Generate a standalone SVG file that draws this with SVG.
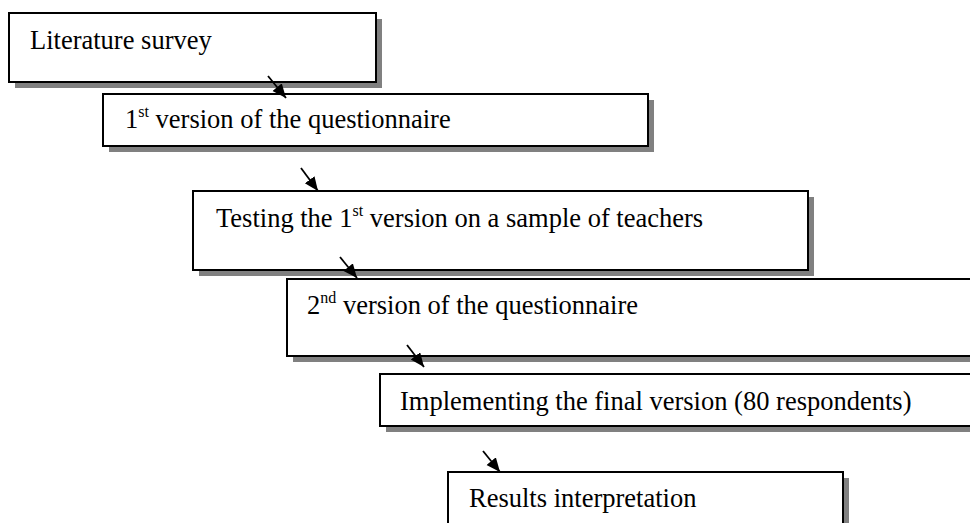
<svg xmlns="http://www.w3.org/2000/svg" width="970" height="523" viewBox="0 0 970 523">
  <style>
    .shadow { fill: #808080; stroke: none; }
    .box { fill: #ffffff; stroke: #000000; stroke-width: 2; }
    .lbl { font-family: "Liberation Serif", "Times New Roman", serif; font-size: 26.5px; fill: #000000; }
    .sup { font-size: 16px; }
    .conn { stroke: #000000; stroke-width: 1.8; fill: none; marker-end: url(#arrow); }
  </style>
  <defs>
    <marker id="arrow" markerUnits="userSpaceOnUse" markerWidth="16" markerHeight="14" refX="14" refY="6" orient="auto">
      <path d="M0,0 L14,6 L0,12 z" fill="#000000"/>
    </marker>
  </defs>
  <rect width="970" height="523" fill="#ffffff"/>

  <g id="node-literature">
    <rect class="shadow" x="15" y="19" width="367" height="69"/>
    <rect class="box" x="9" y="13" width="367" height="69"/>
    <text class="lbl" x="30" y="49">Literature survey</text>
  </g>

  <g id="node-version1">
    <rect class="shadow" x="109" y="100" width="545" height="52"/>
    <rect class="box" x="103" y="94" width="545" height="52"/>
    <text class="lbl" x="125" y="128">1<tspan class="sup" dy="-11">st</tspan><tspan dy="11"> version of the questionnaire</tspan></text>
  </g>

  <g id="node-testing">
    <rect class="shadow" x="199" y="197" width="615" height="79"/>
    <rect class="box" x="193" y="191" width="615" height="79"/>
    <text class="lbl" x="216" y="227">Testing the 1<tspan class="sup" dy="-11">st</tspan><tspan dy="11"> version on a sample of teachers</tspan></text>
  </g>

  <g id="node-version2">
    <rect class="shadow" x="293" y="285" width="700" height="77"/>
    <rect class="box" x="287" y="279" width="700" height="77"/>
    <text class="lbl" x="307" y="314">2<tspan class="sup" dy="-11">nd</tspan><tspan dy="11"> version of the questionnaire</tspan></text>
  </g>

  <g id="node-implementing">
    <rect class="shadow" x="386" y="380" width="600" height="52"/>
    <rect class="box" x="380" y="374" width="600" height="52"/>
    <text class="lbl" x="400" y="410">Implementing the final version (80 respondents)</text>
  </g>

  <g id="node-results">
    <rect class="shadow" x="454" y="478" width="395" height="70"/>
    <rect class="box" x="448" y="472" width="395" height="70"/>
    <text class="lbl" x="469" y="507">Results interpretation</text>
  </g>

  <g id="connectors">
    <line class="conn" x1="268" y1="76" x2="286" y2="98"/>
    <line class="conn" x1="301" y1="168" x2="318" y2="191"/>
    <line class="conn" x1="340" y1="257" x2="357" y2="278"/>
    <line class="conn" x1="407" y1="345" x2="424" y2="367"/>
    <line class="conn" x1="483" y1="451" x2="500" y2="472"/>
  </g>
</svg>
